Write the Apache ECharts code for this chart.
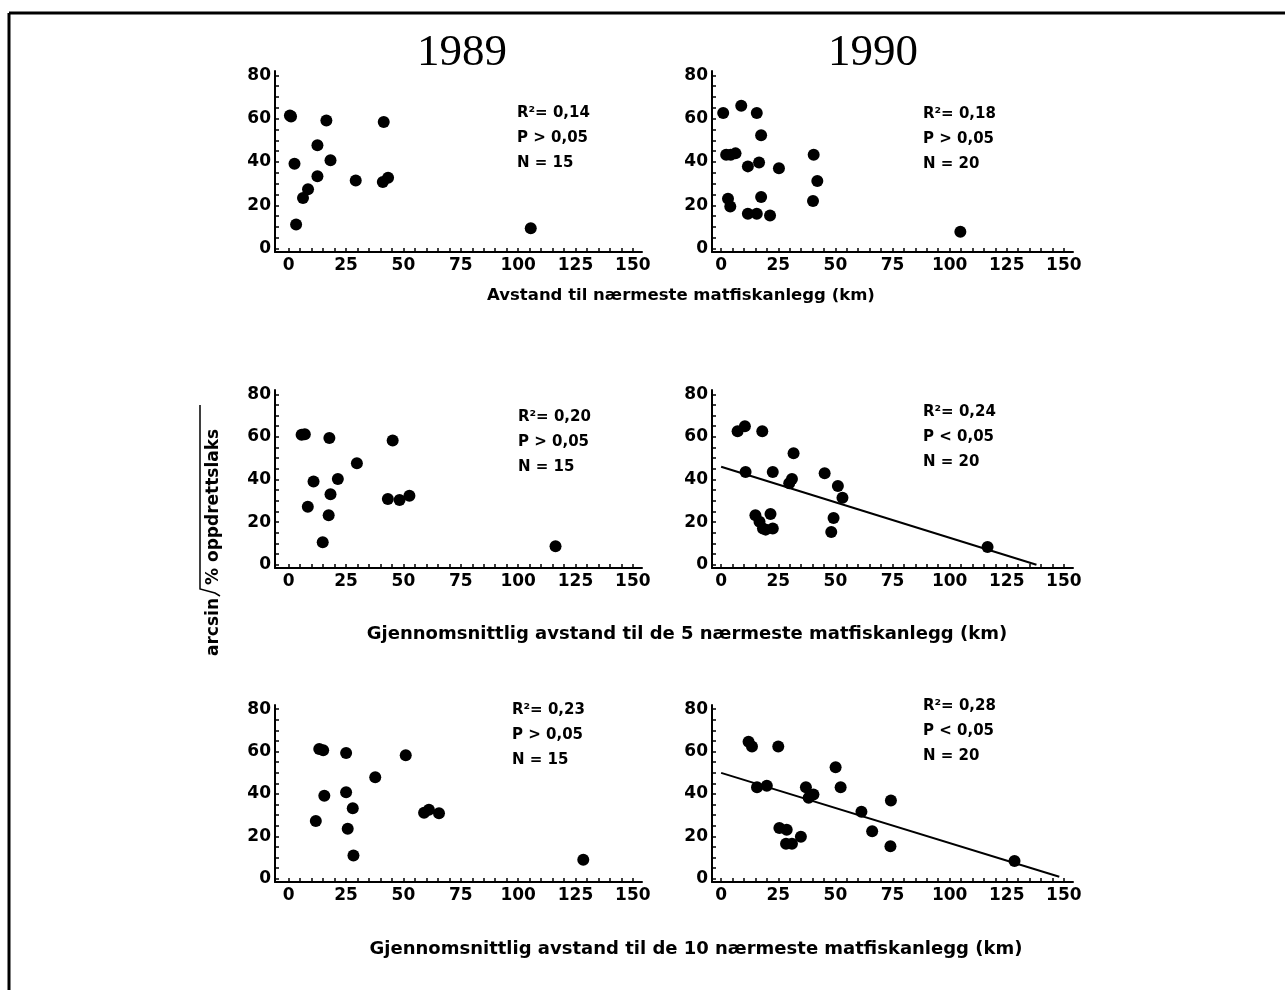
<!DOCTYPE html>
<html>
<head>
<meta charset="utf-8">
<script src="https://cdn.jsdelivr.net/npm/echarts@6/dist/echarts.min.js"></script>
<style>
  html, body { margin: 0; padding: 0; background: #fff; }
  #main { width: 1285px; height: 990px; }
</style>
</head>
<body>
<div id="main"></div>
<script>
// avstand til naermeste anlegg
const near1989 = [[1, 61], [0.5, 61.5], [16.4, 59.2], [41.4, 58.5], [12.5, 47.7], [2.5, 39.2], [18.2, 40.8],
  [12.5, 33.4], [29.2, 31.5], [41, 30.8], [43.3, 32.8], [8.4, 27.4], [6.2, 23.4], [3.2, 11.2], [105.5, 9.5]]
const near1990 = [[0.9, 62.6], [8.8, 66], [15.6, 62.6], [17.5, 52.4], [2.2, 43.4], [4.2, 43.4], [6.3, 44],
  [11.7, 38], [16.6, 39.8], [25.3, 37.1], [40.5, 43.4], [42.1, 31.3], [40.2, 22], [3, 23.1], [4, 19.5],
  [11.7, 16.1], [15.6, 16.1], [17.5, 23.9], [21.4, 15.3], [104.7, 7.8]]
// gjennomsnitt 5 naermeste
const mean5_1989 = [[5.6, 61], [7, 61.2], [17.7, 59.5], [45.3, 58.3], [29.7, 47.6], [10.8, 39.1], [21.4, 40.3],
  [18.2, 33.1], [8.3, 27.2], [17.4, 23.3], [14.8, 10.6], [43.2, 30.9], [48.3, 30.4], [52.6, 32.4], [116.3, 8.7]]
const mean5_1990 = [[7.2, 62.7], [10.4, 65], [18, 62.7], [31.7, 52.3], [10.7, 43.5], [22.6, 43.5], [45.3, 43],
  [51.1, 37], [53.1, 31.5], [31, 40.2], [29.8, 38.3], [15, 23.3], [21.6, 23.8], [16.8, 20.2], [18.3, 17],
  [19.5, 16.5], [22.6, 17], [49.2, 22], [48.2, 15.4], [116.6, 8.3]]
// gjennomsnitt 10 naermeste
const mean10_1989 = [[13.3, 61.2], [15, 60.6], [25, 59.4], [51, 58.3], [37.7, 47.9], [15.5, 39.2], [25, 40.8],
  [27.9, 33.3], [11.8, 27.3], [25.7, 23.6], [28.2, 11], [59, 31.2], [61.1, 32.6], [65.5, 30.9], [128.4, 9]]
const mean10_1990 = [[12, 64.7], [13.5, 62.4], [25, 62.4], [50.1, 52.6], [52.3, 43.2], [15.7, 43.2], [20, 43.9],
  [37.1, 43.2], [38.3, 38.3], [40.4, 39.8], [61.4, 31.6], [74.3, 37], [66.1, 22.4], [74.1, 15.4], [25.5, 24],
  [28.7, 23.2], [28.4, 16.5], [31, 16.5], [34.9, 19.9], [128.4, 8.4]]
// regresjonslinjer
const fit5_1990 = [[0, 46], [138, 0]]
const fit10_1990 = [[0, 50], [148, 1]]

const r2Values = ['0,14', '0,18', '0,20', '0,24', '0,23', '0,28']
const pValues = ['> 0,05', '> 0,05', '> 0,05', '< 0,05', '> 0,05', '< 0,05']
const nValues = ['15', '20', '15', '20', '15', '20']

const xTicks = [0, 25, 50, 75, 100, 125, 150]
const yTicks = [0, 20, 40, 60, 80]
const xSmall = []
for (let v = 0; v <= 150; v += 5) xSmall.push(v)
const ySmall = []
for (let v = 0; v <= 80; v += 5) ySmall.push(v)

const years = ['1989', '1990']
const xTitles = [
  'Avstand til nærmeste matfiskanlegg (km)',
  'Gjennomsnittlig avstand til de 5 nærmeste matfiskanlegg (km)',
  'Gjennomsnittlig avstand til de 10 nærmeste matfiskanlegg (km)'
]

const panelData = [near1989, near1990, mean5_1989, mean5_1990, mean10_1989, mean10_1990]
const fits = { 3: fit5_1990, 5: fit10_1990 }

// layout (pixels)
const colLeft = [275, 712]
const colWidth = [367, 361]
const colMin = [-6, -4]
const rowTop = [71, 390, 705]
const rowHeight = [181, 178, 177]
const statX = [517, 923, 518, 923, 512, 923]
const statY = [115, 116, 419, 414, 712, 708]

const FONT = 'DejaVu Sans'
let grids = [], xAxes = [], yAxes = [], series = [], graphics = []

for (let i = 0; i < 6; i++) {
  let c = i % 2, r = Math.floor(i / 2)
  grids.push({ left: colLeft[c], width: colWidth[c], top: rowTop[r], height: rowHeight[r] })
  xAxes.push({
    type: 'value', gridIndex: i, min: colMin[c], max: 154,
    axisLine: { show: true, onZero: false, lineStyle: { color: '#000', width: 2 } },
    axisTick: { show: true, inside: true, length: 4, customValues: xSmall, lineStyle: { color: '#000', width: 1.5 } },
    axisLabel: { customValues: xTicks, color: '#000', fontFamily: FONT, fontWeight: 'bold', fontSize: 17, margin: 5 },
    splitLine: { show: false }
  })
  yAxes.push({
    type: 'value', gridIndex: i, min: -1.5, max: 82,
    axisLine: { show: true, onZero: false, lineStyle: { color: '#000', width: 2 } },
    axisTick: { show: true, inside: true, length: 4, customValues: ySmall, lineStyle: { color: '#000', width: 1.5 } },
    axisLabel: { customValues: yTicks, color: '#000', fontFamily: FONT, fontWeight: 'bold', fontSize: 17, margin: 4 },
    splitLine: { show: false }
  })
  series.push({
    type: 'scatter', xAxisIndex: i, yAxisIndex: i,
    data: panelData[i], symbolSize: 12,
    itemStyle: { color: '#000', opacity: 1 }
  })
  if (fits[i]) {
    series.push({
      type: 'line', xAxisIndex: i, yAxisIndex: i,
      data: fits[i], symbol: 'none',
      lineStyle: { color: '#000', width: 2 }
    })
  }
  let lines = ['R²= ' + r2Values[i], 'P ' + pValues[i], 'N = ' + nValues[i]]
  lines.forEach((t, k) => {
    graphics.push({
      type: 'text', left: statX[i], top: statY[i] + k * 25 - 9,
      style: { text: t, fill: '#000', font: 'bold 15px "DejaVu Sans"' }
    })
  })
}

// aarstall
graphics.push({ type: 'text', left: 417, top: 31, style: { text: years[0], fill: '#000', font: '45px "Liberation Serif"' } })
graphics.push({ type: 'text', left: 828, top: 31, style: { text: years[1], fill: '#000', font: '45px "Liberation Serif"' } })

// x-titler
const titleY = [287, 625, 940]
const titleX = [681, 687, 696]
const titleSize = [16.5, 18, 18]
xTitles.forEach((t, k) => {
  graphics.push({
    type: 'text', x: titleX[k], y: titleY[k],
    style: { text: t, fill: '#000', font: 'bold ' + titleSize[k] + 'px "DejaVu Sans"', align: 'center', verticalAlign: 'top' }
  })
})

// y-tittel: arcsin rot(% oppdrettslaks)
graphics.push({
  type: 'text', x: 214, y: 656, rotation: Math.PI / 2,
  style: { text: 'arcsin', fill: '#000', font: 'bold 17px "DejaVu Sans"', align: 'left', verticalAlign: 'middle' }
})
graphics.push({
  type: 'text', x: 214, y: 585, rotation: Math.PI / 2,
  style: { text: '% oppdrettslaks', fill: '#000', font: 'bold 17px "DejaVu Sans"', align: 'left', verticalAlign: 'middle' }
})
graphics.push({
  type: 'polyline',
  shape: { points: [[220, 596], [215, 593], [200, 589], [200, 405]] },
  style: { stroke: '#000', lineWidth: 1.5, fill: null }
})

// ramme
graphics.push({ type: 'line', shape: { x1: 9, y1: 13, x2: 1285, y2: 13 }, style: { stroke: '#000', lineWidth: 3 } })
graphics.push({ type: 'line', shape: { x1: 9, y1: 13, x2: 9, y2: 990 }, style: { stroke: '#000', lineWidth: 3 } })

let myChart = echarts.init(document.getElementById('main'))
myChart.setOption({
  backgroundColor: '#fff',
  animation: false,
  grid: grids,
  xAxis: xAxes,
  yAxis: yAxes,
  series: series,
  graphic: graphics
})
</script>
</body>
</html>
